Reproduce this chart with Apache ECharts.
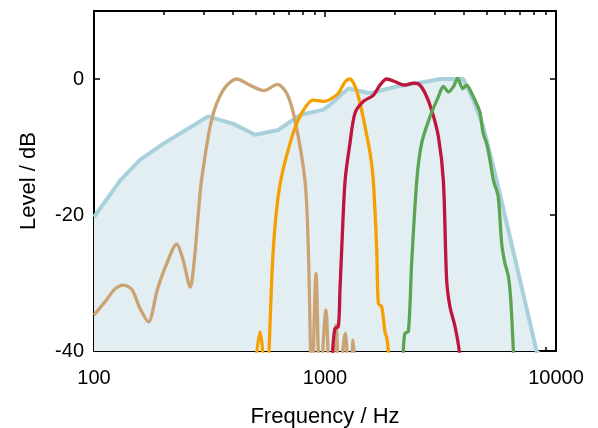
<!DOCTYPE html>
<html>
<head>
<meta charset="utf-8">
<script src="https://cdn.jsdelivr.net/npm/echarts@6/dist/echarts.min.js"></script>
<style>
  html, body { margin: 0; padding: 0; background: #fff; }
  #chart { width: 598px; height: 428px; }
</style>
</head>
<body>
<div id="chart"></div>
<script>
// tick labels
const xTicks = [100, 1000, 10000];
const xMinorTicks = [200, 300, 400, 500, 600, 700, 800, 900, 2000, 3000, 4000, 5000, 6000, 7000, 8000, 9000];
const yTicks = [-40, -20, 0];

// overall response (filled)
const freqBlue = [100, 130, 158, 200, 312, 401, 498, 628, 705, 779, 984, 1052, 1262, 1567, 2042, 2851, 3150, 3971, 4385, 4840, 5535, 8240, 8500];
const levelBlue = [-20.3, -14.9, -11.9, -9.5, -5.5, -6.6, -8.2, -7.5, -6.3, -5.3, -4.5, -3.8, -1.4, -2.1, -1.1, -0.3, 0, 0, -3.1, -7, -14.9, -40, -42];

// band 1 (tan)
const freqTan = [100, 112, 123, 134, 146, 158, 172, 188, 205, 228, 243, 261, 272, 283, 292, 323, 363, 415, 473, 544, 622, 685, 741, 819, 847, 878, 914, 951, 1009, 1052, 1117, 1150, 1222, 1282, 1325, 1366];
const levelTan = [-34.7, -32.7, -30.9, -30.3, -31, -33.7, -35.7, -31, -27.4, -24.3, -26.6, -30.6, -26.5, -19.7, -14.9, -6, -1.6, 0, -0.9, -1.7, -0.8, -2.2, -6, -14.9, -25.1, -46, -28.6, -46, -34, -46, -36.2, -46, -37.4, -46, -38.4, -46];

// band 2 (orange)
const freqOrange = [488, 523, 556, 597, 635, 705, 779, 889, 984, 1052, 1143, 1222, 1282, 1349, 1419, 1490, 1567, 1618, 1675, 1702, 1760, 1818, 1850, 1880, 1920];
const levelOrange = [-46, -37.2, -45, -25.1, -16, -9.5, -5.5, -3.1, -3.3, -3, -2.1, -0.4, 0, -1.1, -3.6, -7, -10.9, -14.9, -25.1, -33, -33.5, -37.2, -38, -40, -46];

// band 3 (crimson)
const freqRed = [1040, 1079, 1104, 1142, 1161, 1181, 1222, 1282, 1349, 1466, 1618, 1729, 1849, 2042, 2218, 2410, 2534, 2713, 2897, 3097, 3253, 3363, 3475, 3654, 3812, 3870];
const levelRed = [-48, -40, -36.7, -36.4, -31, -25.1, -14.9, -9.5, -5, -3.3, -2.4, -0.9, 0, -0.5, -0.9, -0.6, -0.7, -2.1, -4.6, -8.5, -14.9, -29.6, -33.5, -36.4, -40, -44];

// band 4 (green)
const freqGreen = [2140, 2183, 2218, 2296, 2372, 2497, 2618, 2851, 3097, 3253, 3420, 3600, 3754, 3945, 4105, 4314, 4528, 4693, 4840, 5010, 5176, 5360, 5620, 5820, 6010, 6220, 6370, 6540, 6650];
const levelGreen = [-48, -40, -37.4, -37.1, -27.1, -14.9, -9.5, -5.5, -2.6, -1.1, -1.9, -1.1, 0.1, -1.4, -0.9, -2.1, -3.6, -5, -8, -9.5, -11.9, -14.9, -17.3, -24.2, -27.1, -29, -32.5, -40, -45];

const pairs = (xs, ys) => xs.map((x, i) => [x, ys[i]]);

const font = 'Liberation Sans, Arial, sans-serif';

const baseX = {
  type: 'log',
  logBase: 10,
  min: 100,
  max: 10000,
  splitLine: { show: false },
  axisLine: { onZero: false, lineStyle: { color: '#000', width: 2 } }
};
const baseY = {
  type: 'value',
  min: -40,
  max: 10,
  interval: 20,
  splitLine: { show: false },
  axisLine: { onZero: false, lineStyle: { color: '#000', width: 2 } }
};

const lineSeries = (name, data, color) => ({
  name,
  type: 'line',
  data,
  smooth: 0.3,
  showSymbol: false,
  clip: true,
  lineStyle: { color, width: 3.3 },
  z: 3
});

const chart = echarts.init(document.getElementById('chart'), null, { renderer: 'canvas' });
chart.setOption({
  animation: false,
  backgroundColor: '#fff',
  grid: {
    left: 94, right: 42, top: 11, bottom: 77,
    outerBoundsMode: 'none', containLabel: false,
    show: true, borderColor: '#000', borderWidth: 2
  },
  xAxis: [
    Object.assign({}, baseX, {
      position: 'bottom',
      name: 'Frequency / Hz',
      nameLocation: 'middle',
      nameGap: 55,
      nameTextStyle: { fontFamily: font, fontSize: 22, color: '#000' },
      axisTick: { inside: true, length: 6, lineStyle: { color: '#000', width: 1.5 } },
      axisLabel: { fontFamily: font, fontSize: 20, color: '#000', margin: 17, customValues: xTicks, formatter: v => String(v) }
    }),
    Object.assign({}, baseX, {
      position: 'top',
      axisTick: { inside: true, length: 6, lineStyle: { color: '#000', width: 1.5 } },
      axisLabel: { show: false }
    }),
    Object.assign({}, baseX, {
      position: 'bottom',
      axisLine: { show: false, onZero: false },
      axisTick: { inside: true, length: 4, customValues: xMinorTicks, lineStyle: { color: '#000', width: 1.5 } },
      axisLabel: { show: false }
    }),
    Object.assign({}, baseX, {
      position: 'top',
      axisLine: { show: false, onZero: false },
      axisTick: { inside: true, length: 4, customValues: xMinorTicks, lineStyle: { color: '#000', width: 1.5 } },
      axisLabel: { show: false }
    })
  ],
  yAxis: [
    Object.assign({}, baseY, {
      position: 'left',
      name: 'Level / dB',
      nameLocation: 'middle',
      nameGap: 54,
      nameTextStyle: { fontFamily: font, fontSize: 22, color: '#000' },
      axisTick: { inside: true, length: 6, customValues: yTicks, lineStyle: { color: '#000', width: 1.5 } },
      axisLabel: { fontFamily: font, fontSize: 20, color: '#000', margin: 10, customValues: yTicks }
    }),
    Object.assign({}, baseY, {
      position: 'right',
      axisTick: { inside: true, length: 6, customValues: yTicks, lineStyle: { color: '#000', width: 1.5 } },
      axisLabel: { show: false }
    })
  ],
  series: [
    {
      name: 'overall',
      type: 'line',
      data: pairs(freqBlue, levelBlue),
      showSymbol: false,
      clip: true,
      lineStyle: { color: '#a8d1db', width: 4 },
      areaStyle: { color: '#e2eef2', origin: 'start', opacity: 1 },
      z: 1
    },
    lineSeries('band1', pairs(freqTan, levelTan), '#cba272'),
    lineSeries('band2', pairs(freqOrange, levelOrange), '#f5a000'),
    lineSeries('band3', pairs(freqRed, levelRed), '#c0143c'),
    lineSeries('band4', pairs(freqGreen, levelGreen), '#5aa452')
  ]
});
</script>
</body>
</html>
